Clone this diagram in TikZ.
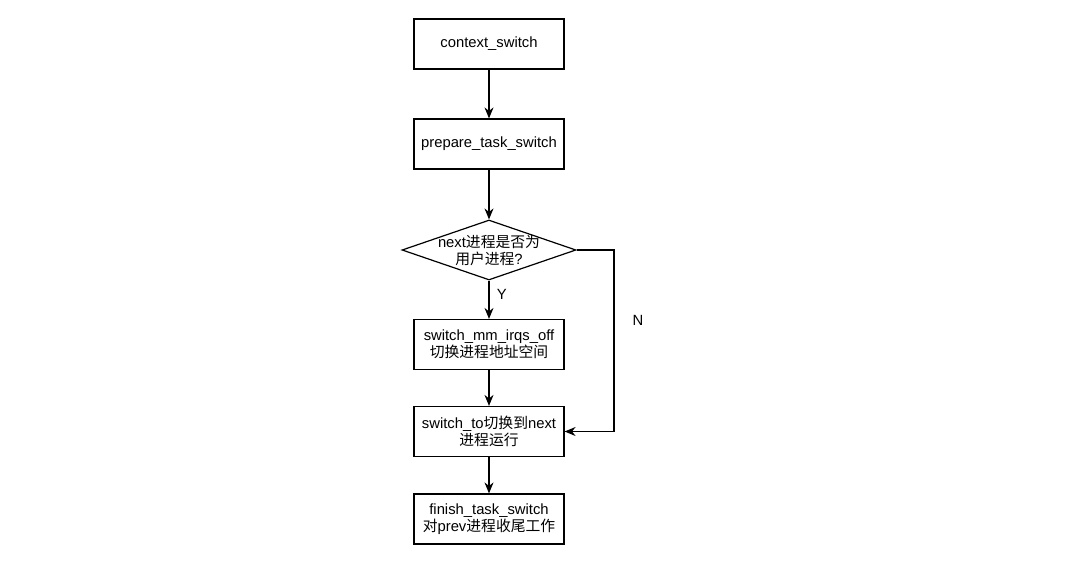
\documentclass[tikz,border=0pt]{standalone}
\usepackage{fontspec}
\setmainfont{Liberation Sans}
\newfontfamily\cjk{Noto Sans CJK SC}
\usetikzlibrary{arrows.meta,shapes.geometric}

\tikzset{
    procbox/.style={draw, line width=1.2pt, minimum width=150pt, minimum height=50pt,
        align=center, font=\fontsize{14.8}{17}\selectfont, inner sep=2pt},
    decision/.style={draw, diamond, line width=1.2pt, minimum width=174pt, minimum height=60pt,
        aspect=2.9, inner sep=-6pt, align=center, font=\fontsize{14.8}{17}\selectfont},
    flow/.style={line width=1.2pt, -{Stealth[length=11pt,width=9pt]}},
}

\begin{document}
\begin{tikzpicture}[x=1pt, y=-1pt]
    \useasboundingbox (0,0) rectangle (1075,567);

    % Boxes
    \node[procbox] (ctx) at (489,44) {context\_switch};
    \node[procbox] (prep) at (489,144) {prepare\_task\_switch};
    \node[decision] (isuser) at (489,250) {next{\cjk 进程是否为}\\{\cjk 用户进程}?};
    \node[procbox] (mm) at (489,344.5) {switch\_mm\_irqs\_off\\{\cjk 切换进程地址空间}};
    \node[procbox] (swto) at (489,431.5) {switch\_to{\cjk 切换到}next\\{\cjk 进程运行}};
    \node[procbox] (finish) at (489,519) {finish\_task\_switch\\{\cjk 对}prev{\cjk 进程收尾工作}};

    % Arrows
    \draw[flow] (ctx) -- (prep);
    \draw[flow] (prep) -- (isuser);
    \draw[flow] (isuser) -- (mm) node[pos=0.35, right, xshift=4pt, font=\fontsize{14.8}{17}\selectfont] {Y};
    \draw[flow] (mm) -- (swto);
    \draw[flow] (swto) -- (finish);

    % N branch
    \coordinate (corner) at (614,250);
    \draw[flow] (isuser.east) -- (corner) |- (swto.east);
    \node[font=\fontsize{14.8}{17}\selectfont] (nlabel) at (638,320) {N};

\end{tikzpicture}
\end{document}
